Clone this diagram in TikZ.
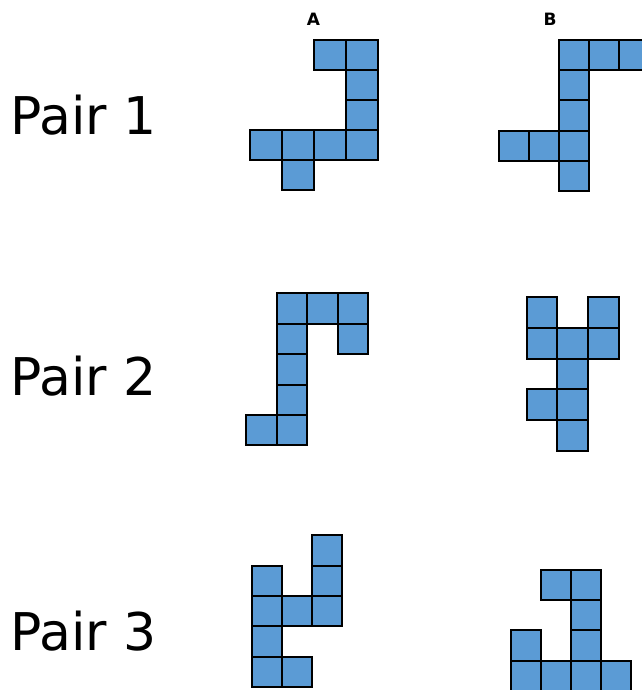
\documentclass[tikz,border=0pt]{standalone}
\usepackage{fontspec}
\setmainfont{DejaVu Sans}
\definecolor{cellblue}{RGB}{91,155,213}
\tikzset{
  cell/.style={draw=black, fill=cellblue, line width=2pt},
  pairlabel/.style={anchor=base west, inner sep=0pt, font=\fontsize{52}{60}\selectfont},
  collabel/.style={inner sep=0pt, font=\fontsize{17}{20}\selectfont\bfseries}
}

\begin{document}
\begin{tikzpicture}[x=1pt, y=-1pt]
    \useasboundingbox (0,0) rectangle (641,690);

    % Labels
    \node[collabel] (colA) at (313.5,19) {A};
    \node[collabel] (colB) at (550,19) {B};
    \node[pairlabel] (pair1) at (10,134.3) {Pair 1};
    \node[pairlabel] (pair2) at (10,395) {Pair 2};
    \node[pairlabel] (pair3) at (10,650.7) {Pair 3};

    % Pair 1
    \begin{scope}[shift={(249.5,40)}, x=32.1pt, y=-30pt]
        \foreach \c/\r in {2/0,3/0,3/1,3/2,0/3,1/3,2/3,3/3,1/4}
            \draw[cell] (\c,\r) rectangle ++(1,1);
    \end{scope}
    \begin{scope}[shift={(499,40.5)}, x=30pt, y=-30pt]
        \foreach \c/\r in {2/0,3/0,4/0,2/1,2/2,0/3,1/3,2/3,2/4}
            \draw[cell] (\c,\r) rectangle ++(1,1);
    \end{scope}

    % Pair 2
    \begin{scope}[shift={(246,293.3)}, x=30.5pt, y=-30.4pt]
        \foreach \c/\r in {1/0,2/0,3/0,1/1,3/1,1/2,1/3,0/4,1/4}
            \draw[cell] (\c,\r) rectangle ++(1,1);
    \end{scope}
    \begin{scope}[shift={(526.7,297.3)}, x=30.7pt, y=-30.7pt]
        \foreach \c/\r in {0/0,2/0,0/1,1/1,2/1,1/2,0/3,1/3,1/4}
            \draw[cell] (\c,\r) rectangle ++(1,1);
    \end{scope}

    % Pair 3
    \begin{scope}[shift={(252,535.3)}, x=30pt, y=-30.3pt]
        \foreach \c/\r in {2/0,0/1,2/1,0/2,1/2,2/2,0/3,0/4,1/4}
            \draw[cell] (\c,\r) rectangle ++(1,1);
    \end{scope}
    \begin{scope}[shift={(510.7,570)}, x=30pt, y=-30.2pt]
        \foreach \c/\r in {1/0,2/0,2/1,0/2,2/2,0/3,1/3,2/3,3/3}
            \draw[cell] (\c,\r) rectangle ++(1,1);
    \end{scope}

\end{tikzpicture}
\end{document}
